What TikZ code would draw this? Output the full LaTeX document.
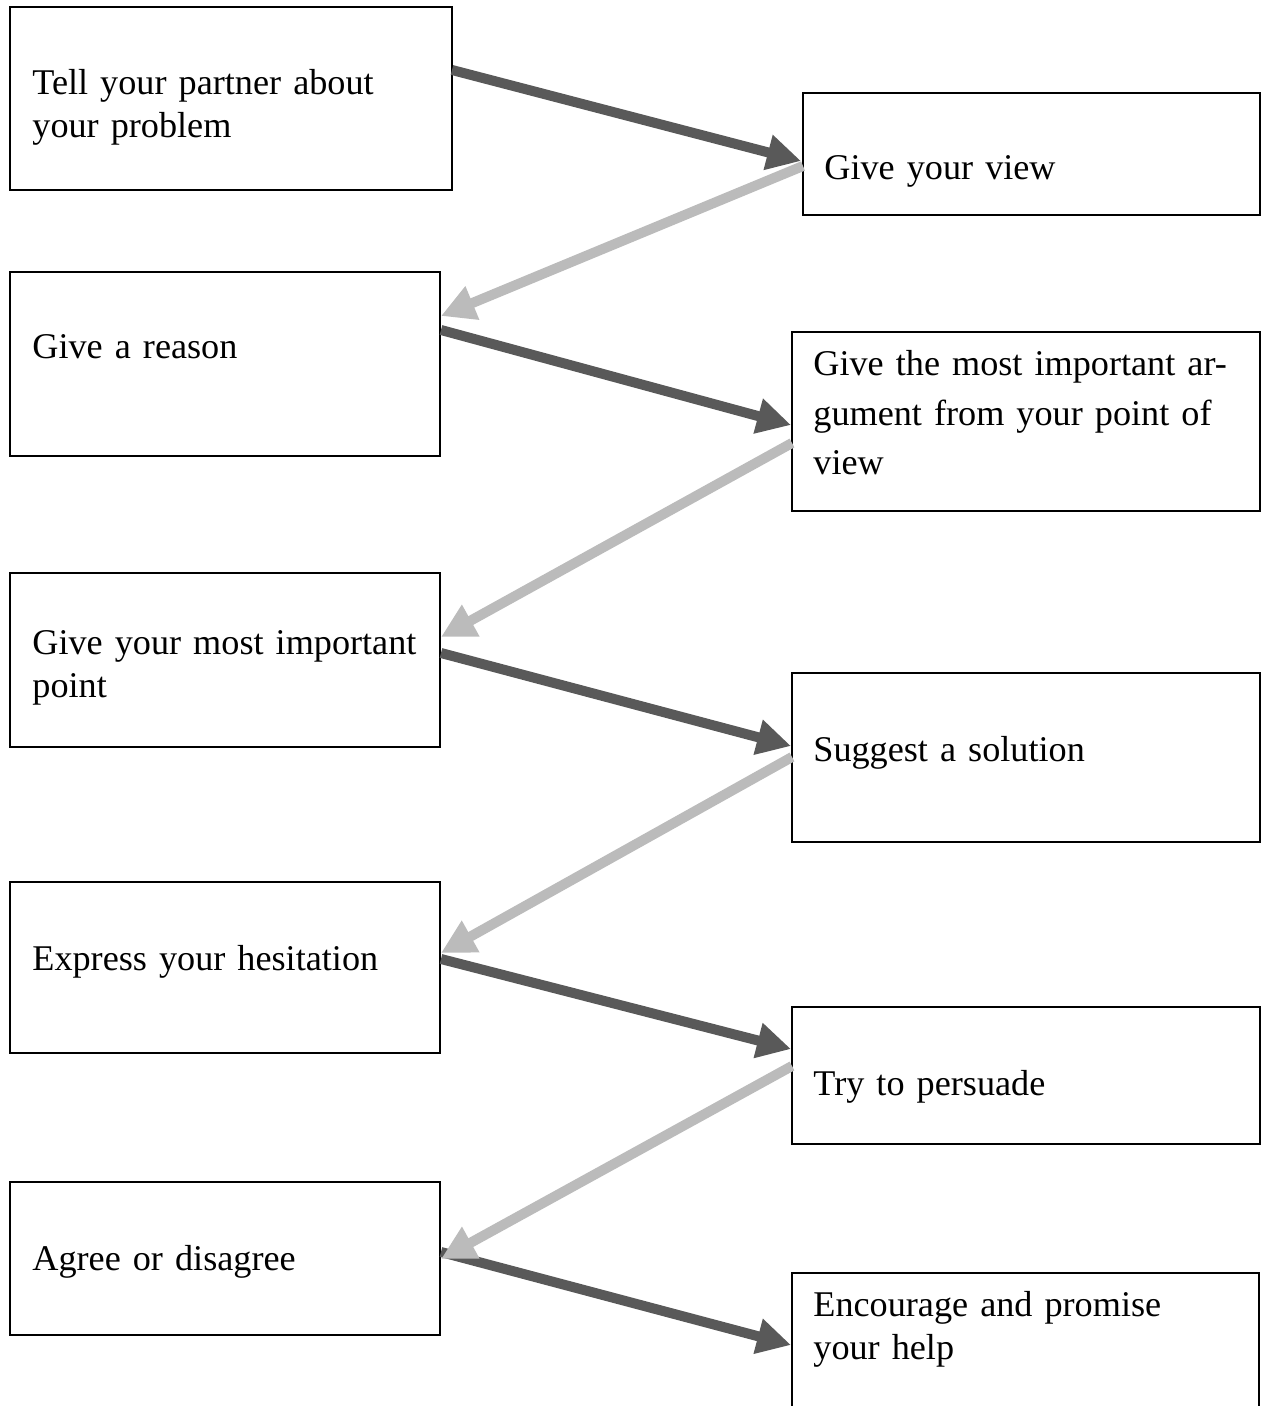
\documentclass[tikz,border=0pt]{standalone}
\usepackage{fontspec}
\setmainfont{Liberation Serif}
\usetikzlibrary{arrows.meta,fit}
\definecolor{darkarrow}{RGB}{89,89,89}
\definecolor{lightarrow}{RGB}{187,187,187}
\tikzset{
	box/.style={draw, line width=0.7pt, inner sep=0pt},
	txt/.style={anchor=base west, inner sep=0pt, align=left, text width=#1},
	txt/.default=210pt,
	fwd/.style={darkarrow, line width=5pt, -{Triangle[length=17pt,width=17pt]}},
	back/.style={lightarrow, line width=5pt, -{Triangle[length=17pt,width=17pt]}}
}
\begin{document}
\begin{tikzpicture}[x=0.5pt, y=-0.5pt, font=\fontsize{18.1}{21.5}\selectfont]
	\useasboundingbox (0,0) rectangle (1268,1406);
	% boxes
	\node[box, fit={(10,7) (452,190)}] (tell) {};
	\node[box, fit={(10,272) (440,456)}] (reason) {};
	\node[box, fit={(10,573) (440,747)}] (point) {};
	\node[box, fit={(10,882) (440,1053)}] (hesitation) {};
	\node[box, fit={(10,1182) (440,1335)}] (agree) {};
	\node[box, fit={(803,93) (1260,215)}] (view) {};
	\node[box, fit={(792,332) (1260,511)}] (argument) {};
	\node[box, fit={(792,673) (1260,842)}] (solution) {};
	\node[box, fit={(792,1007) (1260,1144)}] (persuade) {};
	\node[box, fit={(792,1273) (1259,1440)}] (encourage) {};
	% texts
	\node[txt] (tell-t) at (32,95) {Tell your partner about\\your problem};
	\node[txt] (reason-t) at (32,359) {Give a reason};
	\node[txt] (point-t) at (32,654) {Give your most important\\point};
	\node[txt] (hesitation-t) at (32,970) {Express your hesitation};
	\node[txt] (agree-t) at (32,1270) {Agree or disagree};
	\node[txt=225pt] (view-t) at (824,180) {Give your view};
	\node[txt=225pt, font=\fontsize{18.1}{24.75}\selectfont] (argument-t) at (813,376) {Give the most important ar-\\gument from your point of\\view};
	\node[txt=225pt] (solution-t) at (813,761) {Suggest a solution};
	\node[txt=225pt] (persuade-t) at (813,1095) {Try to persuade};
	\node[txt=225pt] (encourage-t) at (813,1316) {Encourage and promise\\your help};
	\path
	(452,70) coordinate (tell-o)
	(801,161) coordinate (view-i)
	(803,166) coordinate (view-o)
	(441,316) coordinate (reason-i)
	(441,330) coordinate (reason-o)
	(791,425) coordinate (argument-i)
	(792,443) coordinate (argument-o)
	(441,637) coordinate (point-i)
	(441,653) coordinate (point-o)
	(791,746) coordinate (solution-i)
	(792,757) coordinate (solution-o)
	(441,953) coordinate (hesitation-i)
	(441,959) coordinate (hesitation-o)
	(791,1049) coordinate (persuade-i)
	(792,1066) coordinate (persuade-o)
	(441,1259) coordinate (agree-i)
	(441,1252) coordinate (agree-o)
	(791,1345) coordinate (encourage-i)
	;
	\foreach \a/\b in {tell/view,reason/argument,point/solution,hesitation/persuade,agree/encourage}\draw[fwd] (\a-o)--(\b-i);
	\foreach \a/\b in {view/reason,argument/point,solution/hesitation,persuade/agree}\draw[back] (\a-o)--(\b-i);
\end{tikzpicture}
\end{document}
